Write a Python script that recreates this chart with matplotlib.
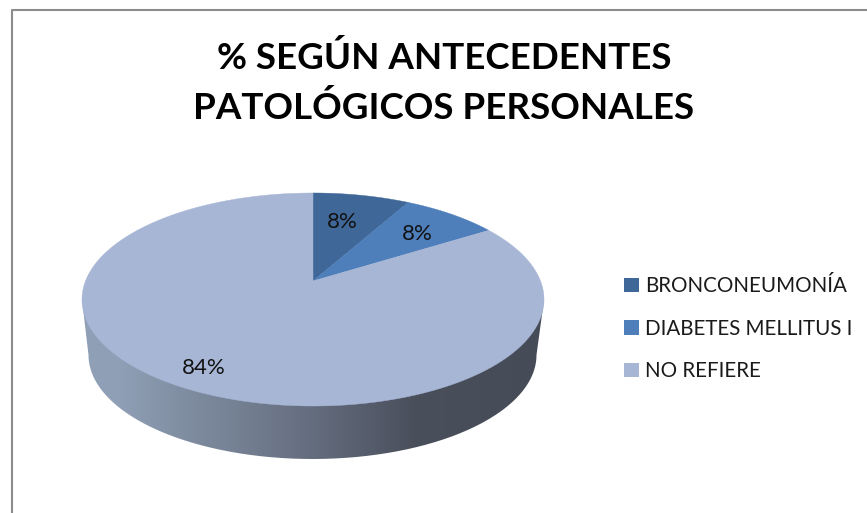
import matplotlib
matplotlib.use('Agg')
import matplotlib.pyplot as plt
import numpy as np
from matplotlib.colors import LinearSegmentedColormap
from matplotlib.patches import Patch, PathPatch, Polygon
from matplotlib.path import Path

title = '% SEGÚN ANTECEDENTES\nPATOLÓGICOS PERSONALES'
categories = ['BRONCONEUMONÍA', 'DIABETES MELLITUS I', 'NO REFIERE']
values = [8, 8, 84]
labels = ['8%', '8%', '84%']
colors = ['#3f6797', '#4e7fba', '#a8b6d6']

plt.rcParams['font.family'] = ['Lato', 'DejaVu Sans']

# top face of the pie, seen in perspective (pixels)
cx, cy = 313, 281
persp = 0.1737
ax_y = 103.3
ax_x = 227.5


def project(theta, r=1.0):
    # theta clockwise from 12 o'clock
    u = r * np.sin(theta)
    v = r * np.cos(theta)
    d = 1 + persp * v
    return cx + ax_x * u / d, cy - ax_y * v / d


fig = plt.figure(figsize=(8.67, 5.13), dpi=100)
ax = fig.add_axes([0, 0, 1, 1])

# side of the pie: horizontal gradient clipped to the rim shape
t = np.linspace(0, np.pi, 200)
low_x = 312.5 - 224 * np.cos(t)
low_y = 355 + 104 * np.sin(t)
top_t = np.linspace(0, 2 * np.pi, 400)
top_x, top_y = project(top_t)
left = np.argmin(top_x)
right = np.argmax(top_x)
rim = np.vstack([
    np.column_stack([low_x, low_y]),
    [[top_x[right], top_y[right]]],
    [[top_x[left], top_y[left]]],
])
cmap = LinearSegmentedColormap.from_list('rim', [
    (0.0, '#8f9fb6'), (0.08, '#8f9fb5'), (0.25, '#7d8a9e'), (0.5, '#646d7e'),
    (0.72, '#4a4f5c'), (1.0, '#454b57'),
])
im = ax.imshow(np.linspace(0, 1, 256)[None, :], cmap=cmap, aspect='auto',
               extent=[82, 544, 470, 290], zorder=1)
im.set_clip_path(PathPatch(Path(rim), transform=ax.transData))

# top face
edges = np.cumsum([0] + values) / sum(values) * 2 * np.pi
for i in range(len(values)):
    th = np.linspace(edges[i], edges[i + 1], 200)
    x, y = project(th)
    pts = np.column_stack([np.r_[cx, x], np.r_[cy, y]])
    ax.add_patch(Polygon(pts, closed=True, facecolor=colors[i], edgecolor=colors[i],
                         linewidth=0.3, zorder=2))

# data labels
ax.text(342, 222, labels[0], fontsize=16, color='#111111', ha='center', va='center', zorder=3)
ax.text(417, 234, labels[1], fontsize=16, color='#111111', ha='center', va='center', zorder=3)
ax.text(204, 368, labels[2], fontsize=16, color='#111111', ha='center', va='center', zorder=3)

ax.text(444, 83, title, fontsize=26.5, fontweight='bold', color='black', ha='center',
        va='center', linespacing=1.58)

handles = [Patch(facecolor=c, edgecolor='none') for c in colors]
ax.legend(handles, categories, loc='upper left', bbox_to_anchor=(620, 272),
          bbox_transform=ax.transData, frameon=False, fontsize=14.8, handlelength=0.7,
          handleheight=0.7, handletextpad=0.3, labelspacing=1.1, labelcolor='#1a1a1a',
          borderpad=0.2, borderaxespad=0)

# chart frame, cut off by the image on the right and bottom
ax.plot([12, 12, 867], [513, 10, 10], color='#8c8c8c', linewidth=1.5, zorder=4)

ax.set_xlim(0, 867)
ax.set_ylim(513, 0)
ax.axis('off')
fig.savefig('out.png', dpi=100)
